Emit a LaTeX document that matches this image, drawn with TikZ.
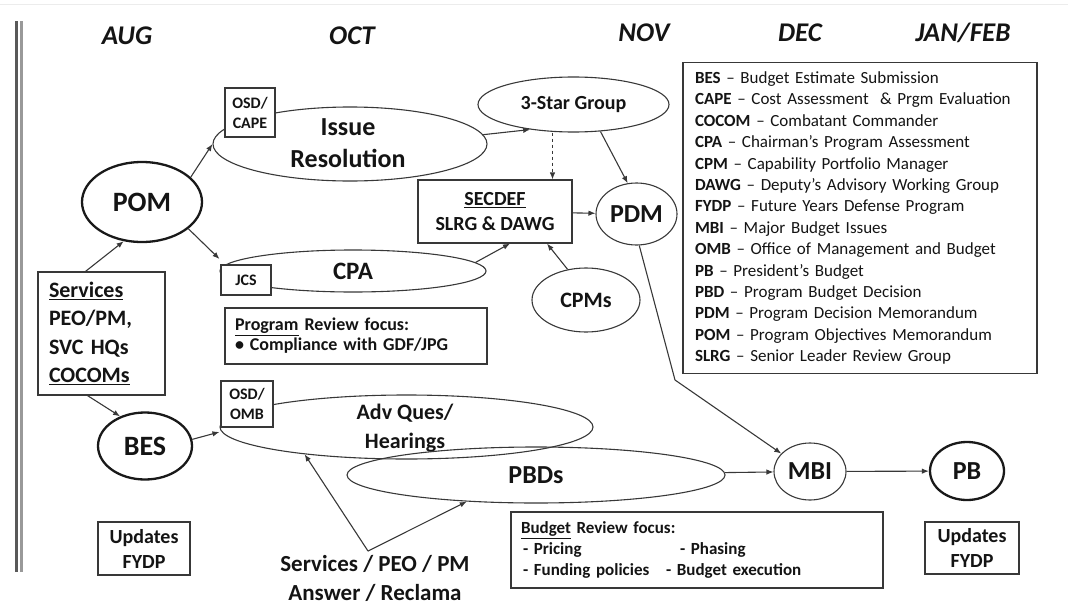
\documentclass[tikz,border=0pt]{standalone}
\usepackage{fontspec}
\setmainfont{Carlito}
\usetikzlibrary{shapes.geometric,arrows.meta}

\begin{document}
\begin{tikzpicture}[x=1pt, y=-1pt, line width=1.1pt, color=black!78,
    every node/.style={text=black!92},
    >={Latex[length=7pt,width=5.5pt]},
    oval/.style={draw, ellipse, inner sep=0pt},
    boldoval/.style={oval, line width=2.3pt, draw=black!90},
    box/.style={draw, rectangle, fill=white, inner sep=0pt},
    tag/.style={box, align=center, font=\fontsize{16}{20}\selectfont\bfseries},
    month/.style={font=\fontsize{27}{30}\selectfont\bfseries\itshape}]
    \useasboundingbox (0,0) rectangle (1068,605);
    \draw[gray!15, line width=1pt] (0,4) -- (1068,4);
    \draw[line width=3pt, black!65] (16.5,21) -- (16.5,572);
    \draw[line width=3.5pt, black!40] (21.5,21) -- (21.5,572);
    % months
    \node[month] (aug) at (127,36) {AUG};
    \node[month] (oct) at (352,36) {OCT};
    \node[month] (nov) at (644,33) {NOV};
    \node[month] (dec) at (800,33) {DEC};
    \node[month] (jan) at (963,33) {JAN/FEB};
    % ellipses
    \node[boldoval, minimum width=120pt, minimum height=80pt, font=\fontsize{28}{32}\selectfont\bfseries] (pom) at (142,202) {POM};
    \node[boldoval, minimum width=94pt, minimum height=67pt, font=\fontsize{28}{32}\selectfont\bfseries] (bes) at (145,446) {BES};
    \node[oval, minimum width=274pt, minimum height=74pt] (iss) at (350,144) {};
    \node[align=center, font=\fontsize{26}{32}\selectfont\bfseries] (isstxt) at (348,143) {Issue\\Resolution};
    \node[oval, minimum width=266pt, minimum height=42pt, font=\fontsize{25}{30}\selectfont\bfseries] (cpa) at (353,271) {CPA};
    \node[oval, minimum width=191pt, minimum height=55pt, font=\fontsize{20}{24}\selectfont\bfseries] (star) at (573.5,104.5) {3-Star Group};
    \node[oval, minimum width=81pt, minimum height=62pt, font=\fontsize{26}{30}\selectfont\bfseries] (pdm) at (636.5,214) {PDM};
    \node[oval, minimum width=108pt, minimum height=64pt, font=\fontsize{22}{26}\selectfont\bfseries] (cpms) at (586,300) {CPMs};
    \node[oval, minimum width=373pt, minimum height=64pt] (adv) at (406.5,427) {};
    \node[align=center, font=\fontsize{22}{29}\selectfont\bfseries] (advtxt) at (405,428.5) {Adv Ques/\\Hearings};
    \node[oval, minimum width=378pt, minimum height=56pt, font=\fontsize{26}{30}\selectfont\bfseries] (pbd) at (536,475) {PBDs};
    \node[oval, minimum width=72pt, minimum height=57pt, font=\fontsize{26}{30}\selectfont\bfseries] (mbi) at (810,471.5) {MBI};
    \node[boldoval, minimum width=74pt, minimum height=58pt, font=\fontsize{26}{30}\selectfont\bfseries] (pb) at (967,471) {PB};
    % boxes
    \node[box, minimum width=127pt, minimum height=123pt, text width=105pt, align=left,
          font=\fontsize{22}{28.3}\selectfont\bfseries] (svc) at (101.5,333.5)
          {\underline{Services}\\PEO/PM,\\SVC HQs\\\underline{COCOMs}};
    \node[tag, minimum width=50pt, minimum height=49pt] (cape) at (250,112.5) {OSD/\\CAPE};
    \node[tag, minimum width=50pt, minimum height=30pt] (jcs) at (246,280) {JCS};
    \node[tag, minimum width=52pt, minimum height=46pt] (omb) at (247,404) {OSD/\\OMB};
    \node[box, minimum width=154pt, minimum height=63pt, align=center,
          font=\fontsize{20}{25}\selectfont\bfseries] (sec) at (495,211.5) {\underline{SECDEF}\\SLRG \& DAWG};
    \node[box, minimum width=262pt, minimum height=56pt, text width=242pt, align=left,
          font=\fontsize{18}{20}\selectfont\bfseries] (prog) at (356,336)
          {\underline{Program} Review focus:\\\textbullet{} Compliance with GDF/JPG};
    \node[box, minimum width=372pt, minimum height=76pt, text width=352pt, align=left,
          font=\fontsize{17}{21}\selectfont\bfseries] (budg) at (697,550)
          {\underline{Budget} Review focus:\\
           \hspace*{2pt}\makebox[157pt][l]{- Pricing}- Phasing\\
           \hspace*{2pt}\makebox[143pt][l]{- Funding policies}- Budget execution};
    \node[box, minimum width=92pt, minimum height=53pt, align=center,
          font=\fontsize{20}{25}\selectfont\bfseries] (upd1) at (144,548.5) {Updates\\FYDP};
    \node[box, minimum width=94pt, minimum height=52pt, align=center,
          font=\fontsize{20}{25}\selectfont\bfseries] (upd2) at (972,548) {Updates\\FYDP};
    \node[align=center, font=\fontsize{23}{29}\selectfont\bfseries] (ans) at (375,578)
          {Services / PEO / PM\\Answer / Reclama};
    \node[box, minimum width=354pt, minimum height=311pt, text width=330pt, align=left,
          font=\fontsize{17}{21.4}\selectfont] (legend) at (860,218) {%
        \textbf{BES} – Budget Estimate Submission\\
        \textbf{CAPE} – Cost Assessment \ \& Prgm Evaluation\\
        \textbf{COCOM} – Combatant Commander\\
        \textbf{CPA} – Chairman’s Program Assessment\\
        \textbf{CPM} – Capability Portfolio Manager\\
        \textbf{DAWG} – Deputy’s Advisory Working Group\\
        \textbf{FYDP} – Future Years Defense Program\\
        \textbf{MBI} – Major Budget Issues\\
        \textbf{OMB} – Office of Management and Budget\\
        \textbf{PB} – President’s Budget\\
        \textbf{PBD} – Program Budget Decision\\
        \textbf{PDM} – Program Decision Memorandum\\
        \textbf{POM} – Program Objectives Memorandum\\
        \textbf{SLRG} – Senior Leader Review Group};
    \coordinate (bend) at (675,380);
    % arrows
    \draw[->] ([xshift=48pt]svc.north west) -- (pom.245);
    \draw[->] ([xshift=50pt]svc.south west) -- (bes.130);
    \draw[->] (pom.27) -- (iss.west);
    \draw[->] (pom.-30) -- ([yshift=12pt]cpa.west);
    \draw[->] (iss.4) -- (star.210);
    \draw[->, dashed] ([xshift=-21pt]star.south) -- ([xshift=-21pt]star.south |- sec.north);
    \draw[->] (star.-45) -- (pdm.106);
    \draw[->] (sec) -- (pdm);
    \draw[->] (cpa.4) -- ([xshift=15pt]sec.south);
    \draw[->] (cpms.121) -- ([xshift=52pt]sec.south);
    \draw[->] (pdm.-85) -- (bend) -- (mbi.148);
    \draw[->] (pbd) -- (mbi);
    \draw[->] (mbi) -- (pb);
    \draw[->] (bes.8) -- ([yshift=-5pt]adv.west);
    \draw[->] ([xshift=-7pt]ans.north) -- (adv.195);
    \draw[->] ([xshift=-7pt]ans.north) -- (pbd.201);
\end{tikzpicture}
\end{document}
